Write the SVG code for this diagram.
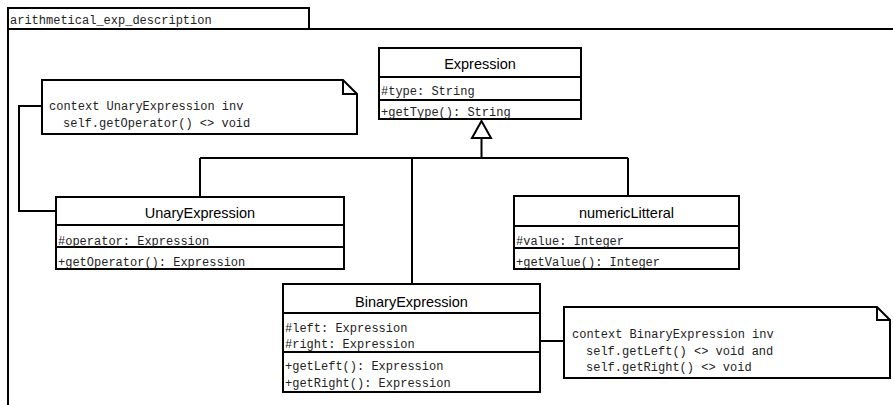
<svg xmlns="http://www.w3.org/2000/svg" width="893" height="405" viewBox="0 0 893 405">
  <style>
    .box { fill: #fff; stroke: #000; stroke-width: 2; }
    .sep { stroke: #000; stroke-width: 2; }
    .wire { fill: none; stroke: #000; stroke-width: 2; }
    .head { fill: #fff; stroke: #000; stroke-width: 2; }
    .name { font-family: "Liberation Sans", Arial, sans-serif; font-size: 14.5px; fill: #000; text-anchor: middle; }
    .mono { font-family: "Liberation Mono", "Courier New", monospace; font-size: 12px; fill: #222; }
  </style>
  <rect width="893" height="405" fill="#fff"/>

  <!-- package frame -->
  <g id="package">
    <rect x="8" y="29" width="900" height="400" fill="none" stroke="#000" stroke-width="2"/>
    <rect x="8" y="8" width="301" height="21" fill="#fff" stroke="#000" stroke-width="2"/>
    <text class="mono" x="10" y="24">arithmetical_exp_description</text>
  </g>

  <!-- connectors: generalization tree and note anchors -->
  <g id="connectors">
    <path class="wire" d="M481.5,138 V158 M200,158 H628 M200,158 V197 M412,158 V284 M628,158 V196"/>
    <path class="head" d="M481.5,121 L472,138 L491,138 Z"/>
    <path class="wire" d="M42,106 H19 V211 H56"/>
    <path class="wire" d="M540,341 H564"/>
  </g>

  <g id="Expression">
    <rect class="box" x="379" y="48" width="202" height="71"/>
    <line class="sep" x1="379" y1="77" x2="581" y2="77"/>
    <line class="sep" x1="379" y1="100" x2="581" y2="100"/>
    <text class="name" x="480" y="69">Expression</text>
    <text class="mono" x="381" y="95">#type: String</text>
    <text class="mono" x="381" y="116">+getType(): String</text>
  </g>

  <g id="UnaryExpression">
    <rect class="box" x="56" y="197" width="288" height="72"/>
    <line class="sep" x1="56" y1="225" x2="344" y2="225"/>
    <line class="sep" x1="56" y1="247" x2="344" y2="247"/>
    <text class="name" x="200" y="218">UnaryExpression</text>
    <text class="mono" x="58" y="245">#operator: Expression</text>
    <text class="mono" x="58" y="266">+getOperator(): Expression</text>
  </g>

  <g id="numericLitteral">
    <rect class="box" x="514" y="196" width="225" height="73"/>
    <line class="sep" x1="514" y1="226" x2="739" y2="226"/>
    <line class="sep" x1="514" y1="248" x2="739" y2="248"/>
    <text class="name" x="626.5" y="218">numericLitteral</text>
    <text class="mono" x="516" y="245">#value: Integer</text>
    <text class="mono" x="516" y="266">+getValue(): Integer</text>
  </g>

  <g id="BinaryExpression">
    <rect class="box" x="283" y="284" width="257" height="108"/>
    <line class="sep" x1="283" y1="313" x2="540" y2="313"/>
    <line class="sep" x1="283" y1="352" x2="540" y2="352"/>
    <text class="name" x="411.5" y="307">BinaryExpression</text>
    <text class="mono" x="285" y="332">#left: Expression</text>
    <text class="mono" x="285" y="348">#right: Expression</text>
    <text class="mono" x="285" y="370">+getLeft(): Expression</text>
    <text class="mono" x="285" y="387">+getRight(): Expression</text>
  </g>

  <g id="noteUnary">
    <path class="box" d="M42,80 H343 L357,94 V134 H42 Z"/>
    <path class="wire" d="M343,80 V94 H357"/>
    <text class="mono" x="49" y="110">context UnaryExpression inv</text>
    <text class="mono" x="63" y="127">self.getOperator() &lt;&gt; void</text>
  </g>

  <g id="noteBinary">
    <path class="box" d="M564,307 H877 L890,320 V378 H564 Z"/>
    <path class="wire" d="M877,307 V320 H890"/>
    <text class="mono" x="572" y="338">context BinaryExpression inv</text>
    <text class="mono" x="586" y="355">self.getLeft() &lt;&gt; void and</text>
    <text class="mono" x="586" y="371">self.getRight() &lt;&gt; void</text>
  </g>
</svg>
